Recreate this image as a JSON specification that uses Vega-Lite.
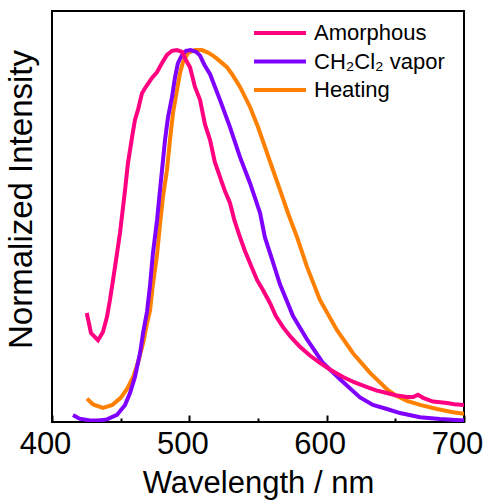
{
  "$schema": "https://vega.github.io/schema/vega-lite/v6.json",
  "width": 412,
  "height": 411,
  "autosize": {"type": "none"},
  "padding": {"left": 52, "top": 11, "right": 22, "bottom": 82},
  "background": "white",
  "config": {
    "view": {"stroke": "black", "strokeWidth": 2},
    "font": "Liberation Sans"
  },
  "data": {
    "values": [
      {"s": "Heating", "w": 425.5, "v": 0.063},
      {"s": "Heating", "w": 429.9, "v": 0.047},
      {"s": "Heating", "w": 437.1, "v": 0.038},
      {"s": "Heating", "w": 444.0, "v": 0.046},
      {"s": "Heating", "w": 450.0, "v": 0.065},
      {"s": "Heating", "w": 455.0, "v": 0.091},
      {"s": "Heating", "w": 459.5, "v": 0.125},
      {"s": "Heating", "w": 463.0, "v": 0.165},
      {"s": "Heating", "w": 466.5, "v": 0.215},
      {"s": "Heating", "w": 469.2, "v": 0.265},
      {"s": "Heating", "w": 471.4, "v": 0.30},
      {"s": "Heating", "w": 473.5, "v": 0.37},
      {"s": "Heating", "w": 476.5, "v": 0.45},
      {"s": "Heating", "w": 478.6, "v": 0.53},
      {"s": "Heating", "w": 480.8, "v": 0.605},
      {"s": "Heating", "w": 483.7, "v": 0.677},
      {"s": "Heating", "w": 485.9, "v": 0.758},
      {"s": "Heating", "w": 488.1, "v": 0.831},
      {"s": "Heating", "w": 491.0, "v": 0.892},
      {"s": "Heating", "w": 493.2, "v": 0.938},
      {"s": "Heating", "w": 495.4, "v": 0.968},
      {"s": "Heating", "w": 499.0, "v": 0.992},
      {"s": "Heating", "w": 504.1, "v": 1.0},
      {"s": "Heating", "w": 509.2, "v": 1.0},
      {"s": "Heating", "w": 513.6, "v": 0.993},
      {"s": "Heating", "w": 517.2, "v": 0.985},
      {"s": "Heating", "w": 520.1, "v": 0.977},
      {"s": "Heating", "w": 527.4, "v": 0.954},
      {"s": "Heating", "w": 531.1, "v": 0.935},
      {"s": "Heating", "w": 536.9, "v": 0.901},
      {"s": "Heating", "w": 544.2, "v": 0.847},
      {"s": "Heating", "w": 550.0, "v": 0.793},
      {"s": "Heating", "w": 555.1, "v": 0.739},
      {"s": "Heating", "w": 560.2, "v": 0.685},
      {"s": "Heating", "w": 566.0, "v": 0.624},
      {"s": "Heating", "w": 571.8, "v": 0.562},
      {"s": "Heating", "w": 578.4, "v": 0.497},
      {"s": "Heating", "w": 585.7, "v": 0.417},
      {"s": "Heating", "w": 595.1, "v": 0.328},
      {"s": "Heating", "w": 607.5, "v": 0.247},
      {"s": "Heating", "w": 619.2, "v": 0.185},
      {"s": "Heating", "w": 631.6, "v": 0.132},
      {"s": "Heating", "w": 643.9, "v": 0.088},
      {"s": "Heating", "w": 650.0, "v": 0.072},
      {"s": "Heating", "w": 658.5, "v": 0.057},
      {"s": "Heating", "w": 668.0, "v": 0.046},
      {"s": "Heating", "w": 680.3, "v": 0.035},
      {"s": "Heating", "w": 692.0, "v": 0.026},
      {"s": "Heating", "w": 700.0, "v": 0.022},

      {"s": "CH₂Cl₂ vapor", "w": 415.3, "v": 0.019},
      {"s": "CH₂Cl₂ vapor", "w": 420.0, "v": 0.009},
      {"s": "CH₂Cl₂ vapor", "w": 427.7, "v": 0.004},
      {"s": "CH₂Cl₂ vapor", "w": 434.0, "v": 0.004},
      {"s": "CH₂Cl₂ vapor", "w": 440.0, "v": 0.007},
      {"s": "CH₂Cl₂ vapor", "w": 447.3, "v": 0.019},
      {"s": "CH₂Cl₂ vapor", "w": 453.2, "v": 0.046},
      {"s": "CH₂Cl₂ vapor", "w": 456.8, "v": 0.078},
      {"s": "CH₂Cl₂ vapor", "w": 460.4, "v": 0.121},
      {"s": "CH₂Cl₂ vapor", "w": 464.1, "v": 0.185},
      {"s": "CH₂Cl₂ vapor", "w": 466.3, "v": 0.239},
      {"s": "CH₂Cl₂ vapor", "w": 469.2, "v": 0.297},
      {"s": "CH₂Cl₂ vapor", "w": 471.4, "v": 0.368},
      {"s": "CH₂Cl₂ vapor", "w": 473.5, "v": 0.454},
      {"s": "CH₂Cl₂ vapor", "w": 476.5, "v": 0.543},
      {"s": "CH₂Cl₂ vapor", "w": 478.0, "v": 0.600},
      {"s": "CH₂Cl₂ vapor", "w": 480.1, "v": 0.677},
      {"s": "CH₂Cl₂ vapor", "w": 482.3, "v": 0.758},
      {"s": "CH₂Cl₂ vapor", "w": 484.5, "v": 0.820},
      {"s": "CH₂Cl₂ vapor", "w": 487.4, "v": 0.874},
      {"s": "CH₂Cl₂ vapor", "w": 489.6, "v": 0.927},
      {"s": "CH₂Cl₂ vapor", "w": 491.7, "v": 0.965},
      {"s": "CH₂Cl₂ vapor", "w": 494.7, "v": 0.987},
      {"s": "CH₂Cl₂ vapor", "w": 497.6, "v": 0.998},
      {"s": "CH₂Cl₂ vapor", "w": 501.0, "v": 1.0},
      {"s": "CH₂Cl₂ vapor", "w": 505.0, "v": 0.995},
      {"s": "CH₂Cl₂ vapor", "w": 507.8, "v": 0.985},
      {"s": "CH₂Cl₂ vapor", "w": 511.0, "v": 0.960},
      {"s": "CH₂Cl₂ vapor", "w": 515.1, "v": 0.935},
      {"s": "CH₂Cl₂ vapor", "w": 522.3, "v": 0.866},
      {"s": "CH₂Cl₂ vapor", "w": 529.6, "v": 0.793},
      {"s": "CH₂Cl₂ vapor", "w": 536.9, "v": 0.712},
      {"s": "CH₂Cl₂ vapor", "w": 544.2, "v": 0.642},
      {"s": "CH₂Cl₂ vapor", "w": 551.5, "v": 0.562},
      {"s": "CH₂Cl₂ vapor", "w": 555.0, "v": 0.497},
      {"s": "CH₂Cl₂ vapor", "w": 560.0, "v": 0.440},
      {"s": "CH₂Cl₂ vapor", "w": 566.0, "v": 0.370},
      {"s": "CH₂Cl₂ vapor", "w": 575.5, "v": 0.285},
      {"s": "CH₂Cl₂ vapor", "w": 585.7, "v": 0.222},
      {"s": "CH₂Cl₂ vapor", "w": 597.0, "v": 0.160},
      {"s": "CH₂Cl₂ vapor", "w": 609.7, "v": 0.115},
      {"s": "CH₂Cl₂ vapor", "w": 624.3, "v": 0.066},
      {"s": "CH₂Cl₂ vapor", "w": 633.7, "v": 0.046},
      {"s": "CH₂Cl₂ vapor", "w": 643.9, "v": 0.035},
      {"s": "CH₂Cl₂ vapor", "w": 653.4, "v": 0.024},
      {"s": "CH₂Cl₂ vapor", "w": 668.0, "v": 0.013},
      {"s": "CH₂Cl₂ vapor", "w": 682.5, "v": 0.008},
      {"s": "CH₂Cl₂ vapor", "w": 700.0, "v": 0.004},

      {"s": "Amorphous", "w": 425.3, "v": 0.293},
      {"s": "Amorphous", "w": 428.4, "v": 0.239},
      {"s": "Amorphous", "w": 433.5, "v": 0.220},
      {"s": "Amorphous", "w": 437.1, "v": 0.242},
      {"s": "Amorphous", "w": 440.0, "v": 0.282},
      {"s": "Amorphous", "w": 442.2, "v": 0.328},
      {"s": "Amorphous", "w": 445.9, "v": 0.417},
      {"s": "Amorphous", "w": 449.5, "v": 0.508},
      {"s": "Amorphous", "w": 453.2, "v": 0.624},
      {"s": "Amorphous", "w": 455.3, "v": 0.696},
      {"s": "Amorphous", "w": 458.3, "v": 0.766},
      {"s": "Amorphous", "w": 460.4, "v": 0.812},
      {"s": "Amorphous", "w": 462.6, "v": 0.839},
      {"s": "Amorphous", "w": 465.5, "v": 0.884},
      {"s": "Amorphous", "w": 469.2, "v": 0.906},
      {"s": "Amorphous", "w": 472.8, "v": 0.925},
      {"s": "Amorphous", "w": 476.5, "v": 0.941},
      {"s": "Amorphous", "w": 480.1, "v": 0.965},
      {"s": "Amorphous", "w": 483.7, "v": 0.987},
      {"s": "Amorphous", "w": 487.4, "v": 0.998},
      {"s": "Amorphous", "w": 491.0, "v": 1.0},
      {"s": "Amorphous", "w": 494.7, "v": 0.995},
      {"s": "Amorphous", "w": 496.8, "v": 0.978},
      {"s": "Amorphous", "w": 500.5, "v": 0.954},
      {"s": "Amorphous", "w": 504.1, "v": 0.901},
      {"s": "Amorphous", "w": 507.8, "v": 0.866},
      {"s": "Amorphous", "w": 511.4, "v": 0.800},
      {"s": "Amorphous", "w": 515.1, "v": 0.758},
      {"s": "Amorphous", "w": 518.5, "v": 0.700},
      {"s": "Amorphous", "w": 522.3, "v": 0.659},
      {"s": "Amorphous", "w": 526.0, "v": 0.620},
      {"s": "Amorphous", "w": 529.6, "v": 0.589},
      {"s": "Amorphous", "w": 533.0, "v": 0.540},
      {"s": "Amorphous", "w": 536.9, "v": 0.497},
      {"s": "Amorphous", "w": 540.5, "v": 0.460},
      {"s": "Amorphous", "w": 544.2, "v": 0.427},
      {"s": "Amorphous", "w": 549.3, "v": 0.382},
      {"s": "Amorphous", "w": 553.6, "v": 0.355},
      {"s": "Amorphous", "w": 558.7, "v": 0.320},
      {"s": "Amorphous", "w": 563.0, "v": 0.285},
      {"s": "Amorphous", "w": 568.2, "v": 0.255},
      {"s": "Amorphous", "w": 574.0, "v": 0.228},
      {"s": "Amorphous", "w": 580.6, "v": 0.202},
      {"s": "Amorphous", "w": 588.0, "v": 0.178},
      {"s": "Amorphous", "w": 595.1, "v": 0.159},
      {"s": "Amorphous", "w": 603.0, "v": 0.140},
      {"s": "Amorphous", "w": 611.9, "v": 0.121},
      {"s": "Amorphous", "w": 620.0, "v": 0.107},
      {"s": "Amorphous", "w": 629.4, "v": 0.094},
      {"s": "Amorphous", "w": 636.0, "v": 0.085},
      {"s": "Amorphous", "w": 643.9, "v": 0.078},
      {"s": "Amorphous", "w": 650.0, "v": 0.072},
      {"s": "Amorphous", "w": 658.5, "v": 0.067},
      {"s": "Amorphous", "w": 662.9, "v": 0.067},
      {"s": "Amorphous", "w": 666.5, "v": 0.073},
      {"s": "Amorphous", "w": 670.2, "v": 0.065},
      {"s": "Amorphous", "w": 677.4, "v": 0.055},
      {"s": "Amorphous", "w": 687.6, "v": 0.051},
      {"s": "Amorphous", "w": 693.0, "v": 0.048},
      {"s": "Amorphous", "w": 700.0, "v": 0.046}
    ]
  },
  "mark": {"type": "line", "strokeWidth": 4, "clip": true},
  "encoding": {
    "x": {
      "field": "w",
      "type": "quantitative",
      "scale": {"domain": [400, 700], "nice": false},
      "axis": {
        "title": "Wavelength / nm",
        "titleFontSize": 31,
        "titleFontWeight": "normal",
        "titleColor": "black",
        "titlePadding": 6,
        "values": [400, 450, 500, 550, 600, 650, 700],
        "labelExpr": "datum.value % 100 === 0 ? datum.label : ''",
        "labelFontSize": 31,
        "labelColor": "black",
        "labelFlush": false,
        "labelOverlap": false,
        "labelPadding": 14,
        "labelOffset": -7,
        "tickSize": {"condition": {"test": "datum.value % 100 === 0", "value": -7}, "value": -4},
        "tickWidth": 2,
        "tickColor": "black",
        "domain": false,
        "grid": false
      }
    },
    "y": {
      "field": "v",
      "type": "quantitative",
      "scale": {"domain": [0, 1.105], "nice": false},
      "axis": {
        "title": "Normalized Intensity",
        "titleFontSize": 33,
        "titleFontWeight": "normal",
        "titleColor": "black",
        "titlePadding": 14,
        "titleY": 188,
        "labels": false,
        "ticks": false,
        "domain": false,
        "grid": false
      }
    },
    "color": {
      "field": "s",
      "type": "nominal",
      "scale": {
        "domain": ["Amorphous", "CH₂Cl₂ vapor", "Heating"],
        "range": ["#FF0080", "#8000FF", "#FF8000"]
      },
      "legend": {
        "title": null,
        "orient": "none",
        "legendX": 213,
        "legendY": 7,
        "symbolType": "M-2,0H2",
        "symbolSize": 676,
        "symbolStrokeWidth": 4,
        "labelFontSize": 22,
        "labelColor": "black",
        "labelOffset": 19,
        "rowPadding": 2.5,
        "labelLimit": 300
      }
    }
  }
}
